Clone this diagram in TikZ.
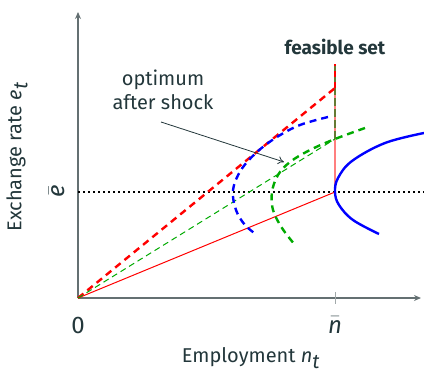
\documentclass[tikz,border=0pt]{standalone}
\usepackage{fontspec}
\setmainfont{Fira Sans}
\usetikzlibrary{arrows.meta}
\definecolor{txt}{RGB}{35,55,59}
\definecolor{axc}{RGB}{100,112,114}
\definecolor{grn}{RGB}{0,170,0}
\tikzset{
  axis/.style={draw=axc, line width=1.4pt, -{Stealth[length=7pt,width=6pt]}},
  lbl/.style={text=txt, font=\fontsize{20}{24}\selectfont, inner sep=0pt},
  thickdash/.style={line width=2.4pt, dash pattern=on 7pt off 5pt},
  thindash/.style={line width=1pt, dash pattern=on 6pt off 4pt},
}
\begin{document}
\begin{tikzpicture}[x=1pt,y=-1pt]
\useasboundingbox (0,0) rectangle (424,373);
\coordinate (O) at (78,298);
\coordinate (ytop) at (78,12);
\coordinate (xend) at (421,298);
\coordinate (nb) at (335,298);
\coordinate (V) at (335,192);
\coordinate (top) at (335,64);
\coordinate (R) at (335,88);
\coordinate (G) at (335,139);
\coordinate (dl) at (78,192);
\coordinate (dr) at (424,192);
% feasible set vertical
\draw[red, opacity=0.5, line width=2pt] (V) -- (top);
\draw[grn!70!black, opacity=0.6, line width=2pt, dash pattern=on 8pt off 3pt] (G) -- (top);
\draw[red, line width=2pt, dash pattern=on 6pt off 5pt] (R) -- (top);
% axes
\draw[axis] (O) -- (ytop);
\draw[axis] (O) -- (xend);
\draw[axc!60, line width=1pt] (335,292) -- (335,304);
% dotted
\draw[black, line width=2pt, dash pattern=on 2pt off 3pt] (dl) -- (dr);
% rays
\draw[red, line width=1pt] (O) -- (V);
\draw[red, thickdash] (O) -- (R);
\draw[grn, thindash] (O) -- (G);
% curves
\draw[blue, line width=2.4pt] plot[smooth, tension=0.6] coordinates {(424,133) (385,143) (352,161) (338,178) (335,192) (339,205) (353,220) (379,234)};
\draw[blue, thickdash] plot[smooth, tension=0.6] coordinates {(328,117) (300,125) (277,137) (257,152) (241,170) (233,190) (236,210) (245,225) (257,235)};
\draw[grn, thickdash] plot[smooth, tension=0.6] coordinates {(365,128) (335,139) (310,150) (290,162) (278,175) (272,192) (273,210) (282,228) (295,245)};
% labels
\node[lbl, font=\fontsize{19}{23}\selectfont\bfseries] (fs) at (335,47) {feasible set};
\node[lbl, align=center] (opt) at (163,90) {optimum\\after shock};
\coordinate (as) at (161,122);
\coordinate (ae) at (284,162);
\draw[txt, line width=0.8pt, -{To[length=6pt,width=8pt]}] (as) -- (ae);
\node[lbl, font=\fontsize{24}{28}\selectfont] (zero) at (78,325) {0};
\node[lbl, font=\fontsize{24}{28}\selectfont] (nbar) at (335,325) {$\bar{\textit{n}}$};
\node[lbl] (xl) at (251,358) {Employment \textit{n}$_{\textit{t}}$};
\node[lbl, rotate=90] (yl) at (17,157) {Exchange rate \textit{e}$_{\textit{t}}$};
\node[lbl, rotate=90, font=\fontsize{24}{28}\selectfont] (ebar) at (57,191) {$\bar{\textit{e}}$};
\end{tikzpicture}
\end{document}
